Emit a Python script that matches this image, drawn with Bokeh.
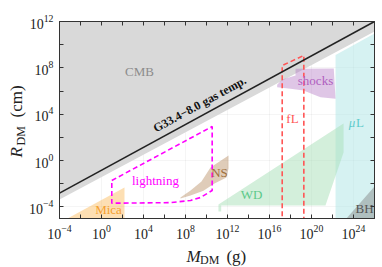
import numpy as np
from bokeh.plotting import figure
from bokeh.models import LogAxis, FixedTicker, Label, ColumnDataSource, CustomJSTickFormatter
from bokeh.embed import file_html
from bokeh.resources import INLINE
from bokeh.core.properties import value

SERIF = "Liberation Serif"

# ---- axes (log10 exponents) ----
x_lim = (-4, 26)
y_lim = (-5, 12)
x_major = [-4, 0, 4, 8, 12, 16, 20, 24]
x_minor = [-2, 2, 6, 10, 14, 18, 22, 26]
y_major = [-4, 0, 4, 8, 12]
y_minor = [-2, 2, 6, 10]

# ---- regions (log10 M [g], log10 R [cm]) ----
cmb_lx = [-4, -4, 26, 26]
cmb_ly = [-3.36, 12.5, 12.5, 11.14]
gas_lx = [-4, 26]
gas_ly = [-2.81, 12.0]
mica_lx = [-3.24, 2.19, 2.19]
mica_ly = [-5.0, -2.32, -5.0]
wd_lx = [11.14, 11.14, 23.05, 23.05, 21.33, 11.4, 11.4]
wd_ly = [-4.39, -3.79, 3.2, 0.7, -3.88, -3.88, -4.39]
mul_lx = [22.29, 22.29, 26, 26]
mul_ly = [-5.0, 9.11, 10.96, -5.0]
bh_lx = [23.33, 26, 26]
bh_ly = [-5.0, -2.24, -5.0]
ns_lx = [7.52, 8.48, 9.52, 10.38, 12.1, 12.1, 11.9, 10.76, 9.71, 8.48, 7.52]
ns_ly = [-3.19, -2.58, -1.80, -0.60, 0.44, -0.68, -1.46, -1.98, -2.6, -3.01, -3.27]
shk_lx = [16.73, 17.21, 18.48, 18.48, 22.12, 22.29, 20.86, 20.19, 19.24, 18.0, 16.73]
shk_ly = [6.54, 7.0, 7.34, 7.92, 7.95, 5.33, 5.47, 5.70, 6.05, 6.19, 6.33]
lgt_lx = [0.98, 10.54, 10.54, 9.43, 8.48, 6.57, 0.98, 0.98]
lgt_ly = [-1.72, 2.94, -2.58, -3.19, -3.44, -3.63, -3.68, -1.72]
fl_lx = [17.21, 17.21, 19.27, 19.27]
fl_ly = [-5.5, 8.2, 9.07, -5.5]

lab_text = ["CMB", "lightning", "NS", "WD", "Mica", "\u03bc", "L", "BH", "fL", "shocks"]
lab_lx = [3.62, 5.14, 11.24, 14.29, 0.67, 23.86, 24.62, 25.05, 18.19, 20.38]
lab_ly = [7.69, -1.72, -1.03, -2.93, -4.22, 3.31, 3.31, -4.13, 3.63, 6.91]
lab_col = ["#8c8c8c", "#ff00ff", "#a0703f", "#5cc98a", "#f5a030", "#5fcccc", "#5fcccc",
           "#555555", "#ff5555", "#b060c0"]
lab_style = ["normal", "normal", "normal", "normal", "normal", "italic", "normal",
             "normal", "normal", "normal"]

# axis title pieces (positions in log10 units, outside the frame)
xt_text = ["M", "DM", "(g)"]
xt_lx = [8.10, 9.38, 11.90]
xt_ly = [-8.27, -8.55, -8.27]
xt_size = ["17px", "12px", "17px"]
xt_style = ["italic", "normal", "normal"]
yt_text = ["R", "DM", "(cm)"]
yt_lx = [-8.10, -7.70, -8.10]
yt_ly = [0.27, 1.30, 3.72]
yt_size = ["17px", "12px", "17px"]
yt_style = ["italic", "normal", "normal"]


def p10(a):
    return [10.0 ** v for v in a]


p = figure(width=382, height=267, x_axis_type="log", y_axis_type="log",
           x_range=(10.0 ** x_lim[0], 10.0 ** x_lim[1]),
           y_range=(10.0 ** y_lim[0], 10.0 ** y_lim[1]),
           output_backend="svg", toolbar_location=None,
           min_border_left=59, min_border_right=8, min_border_top=21, min_border_bottom=49)
p.outline_line_color = "#333333"
p.background_fill_color = "white"
p.border_fill_color = "white"

xt = FixedTicker(ticks=p10(x_major), minor_ticks=p10(x_minor))
yt = FixedTicker(ticks=p10(y_major), minor_ticks=p10(y_minor))


def style_axis(ax, ticker, labels=True):
    ax.ticker = ticker
    ax.axis_line_color = "#333333"
    ax.major_tick_in = 4
    ax.major_tick_out = 0
    ax.minor_tick_in = 4
    ax.minor_tick_out = 0
    ax.major_tick_line_color = "#333333"
    ax.minor_tick_line_color = "#333333"
    ax.major_label_text_font = SERIF
    ax.major_label_text_color = "#222222"
    ax.major_label_text_font_size = "14px"
    if labels:
        ax.major_label_standoff = 6
    else:
        ax.formatter = CustomJSTickFormatter(code="return ''")
        ax.major_label_standoff = 0


style_axis(p.xaxis[0], xt)
style_axis(p.yaxis[0], yt)
top = LogAxis()
right = LogAxis()
style_axis(top, xt, labels=False)
style_axis(right, yt, labels=False)
p.add_layout(top, "above")
p.add_layout(right, "right")

p.xgrid.ticker = xt
p.ygrid.ticker = yt
p.grid.grid_line_color = "#000000"
p.grid.grid_line_alpha = 0.04

# regions
p.patch(p10(cmb_lx), p10(cmb_ly), fill_color="#d9d9d9", line_color=None)
p.patch(p10(mica_lx), p10(mica_ly), fill_color="#fbb040", fill_alpha=0.4, line_color=None)
p.patch(p10(mul_lx), p10(mul_ly), fill_color="#aee6e6", fill_alpha=0.5, line_color=None)
p.patch(p10(wd_lx), p10(wd_ly), fill_color="#a8dfb8", fill_alpha=0.5, line_color=None)
p.patch(p10(bh_lx), p10(bh_ly), fill_color="#808080", fill_alpha=0.45, line_color=None)
p.patch(p10(ns_lx), p10(ns_ly), fill_color="#b08050", fill_alpha=0.4, line_color=None)
p.patch(p10(shk_lx), p10(shk_ly), fill_color="#b070c0", fill_alpha=0.4, line_color=None)
p.line(p10(lgt_lx), p10(lgt_ly), line_color="#ff00ff", line_width=1.6, line_dash="5 3")
p.line(p10(fl_lx), p10(fl_ly), line_color="#ff5555", line_width=1.6, line_dash="5 3")
p.line(p10(gas_lx), p10(gas_ly), line_color="#222222", line_width=1.6)

src = ColumnDataSource(dict(x=p10(lab_lx), y=p10(lab_ly), text=lab_text, color=lab_col,
                            style=lab_style))
p.text(x="x", y="y", text="text", text_color="color", text_font_style="style", source=src,
       text_font=value(SERIF), text_font_size="13px",
       text_align="center", text_baseline="middle")

p.add_layout(Label(x=10.0 ** 9.67, y=10.0 ** 4.33, text="G33.4\u22128.0 gas temp.",
                   angle=np.deg2rad(28.6), text_font=SERIF, text_font_size="12px",
                   text_font_style="bold", text_color="#111111",
                   text_align="center", text_baseline="bottom"))

# axis titles: text glyphs on the overlay level (not clipped to the frame)
for t, lx, ly, fs, st in zip(xt_text, xt_lx, xt_ly, xt_size, xt_style):
    p.text(x=[10.0 ** lx], y=[10.0 ** ly], text=[t], text_font=value(SERIF),
           text_font_size=fs, text_font_style=st, text_color="#222222",
           text_align="left", text_baseline="middle", level="overlay")
for t, lx, ly, fs, st in zip(yt_text, yt_lx, yt_ly, yt_size, yt_style):
    p.text(x=[10.0 ** lx], y=[10.0 ** ly], text=[t], text_font=value(SERIF),
           text_font_size=fs, text_font_style=st, text_color="#222222",
           angle=np.pi / 2, text_align="left", text_baseline="middle", level="overlay")

open("out.html", "w").write(file_html(p, INLINE))
